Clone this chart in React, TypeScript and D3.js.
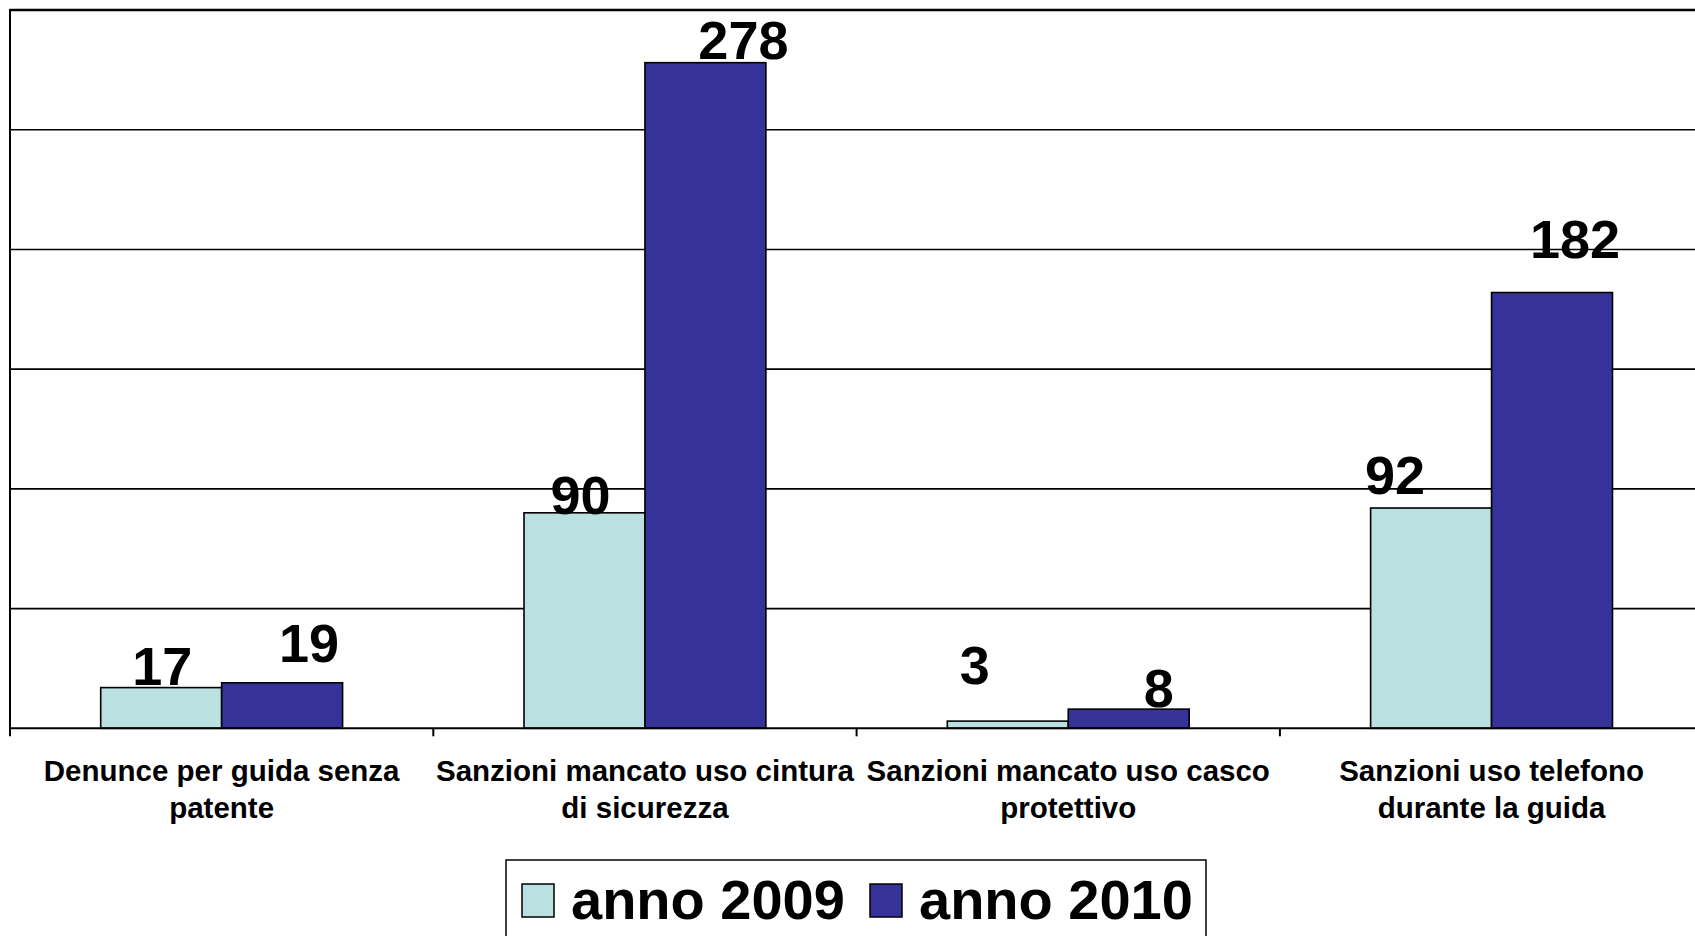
import React, { useEffect } from "react";
import * as d3 from "d3";

const categories = [
  "Denunce per guida senza patente",
  "Sanzioni mancato uso cintura di sicurezza",
  "Sanzioni mancato uso casco protettivo",
  "Sanzioni uso telefono durante la guida",
];
const categoryLines = [
  ["Denunce per guida senza", "patente"],
  ["Sanzioni mancato uso cintura", "di sicurezza"],
  ["Sanzioni mancato uso casco", "protettivo"],
  ["Sanzioni uso telefono", "durante la guida"],
];
const seriesNames = ["anno 2009", "anno 2010"];
const values2009 = [17, 90, 3, 92];
const values2010 = [19, 278, 8, 182];
const yTicks = [0, 50, 100, 150, 200, 250, 300];

// label placement nudges (layout only): [dx, gap above bar top]
const labelNudge2009 = [[1, 3], [-4, -1], [-33, 37], [-36, 14]];
const labelNudge2010 = [[27, 21], [38, 4], [30, 2], [23, 35]];

const W = 1695;
const H = 936;
const FONT = "'Liberation Sans', Arial, Helvetica, sans-serif";
const colors = ["#BAE0E2", "#353399"];

export default function App() {
  useEffect(() => {
    document.body.style.margin = "0";
    document.body.style.overflow = "hidden";
  }, []);

  const left = 10;
  const step = 423.3;
  const x = d3
    .scaleBand<string>()
    .domain(categories)
    .range([left, left + step * categories.length])
    .paddingInner(0)
    .paddingOuter(0);
  const y = d3.scaleLinear().domain([0, 300]).range([728.3, 10]);
  const bw = x.bandwidth();
  const barW = bw / 3.5;
  const inner = d3
    .scaleBand<number>()
    .domain([0, 1])
    .range([0.75 * barW, 2.75 * barW]);

  const series = [values2009, values2010];
  const nudges = [labelNudge2009, labelNudge2010];

  return (
    <svg
      width={W}
      height={H}
      style={{ position: "absolute", left: 0, top: 0, background: "#fff" }}
      fontFamily={FONT}
    >
      <rect x={0} y={0} width={W} height={H} fill="#fff" />
      {yTicks.slice(1).map((t) => (
        <line
          key={t}
          x1={left}
          x2={W}
          y1={y(t)}
          y2={y(t)}
          stroke="#000"
          strokeWidth={t === 300 ? 2.5 : 1.6}
        />
      ))}
      {series.map((vals, si) =>
        vals.map((v, ci) => {
          const bx = (x(categories[ci]) as number) + (inner(si) as number);
          return (
            <rect
              key={`b${si}-${ci}`}
              x={bx}
              y={y(v)}
              width={inner.bandwidth()}
              height={y(0) - y(v)}
              fill={colors[si]}
              stroke="#000"
              strokeWidth={1.6}
            />
          );
        })
      )}
      <line x1={left} x2={W} y1={y(0)} y2={y(0)} stroke="#000" strokeWidth={2} />
      <line x1={left} x2={left} y1={y(300) - 1} y2={y(0) + 8} stroke="#000" strokeWidth={2} />
      {categories.map((c, i) =>
        i === 0 ? null : (
          <line
            key={`t${i}`}
            x1={x(c) as number}
            x2={x(c) as number}
            y1={y(0)}
            y2={y(0) + 8}
            stroke="#000"
            strokeWidth={2}
          />
        )
      )}
      {series.map((vals, si) =>
        vals.map((v, ci) => {
          const cx =
            (x(categories[ci]) as number) +
            (inner(si) as number) +
            inner.bandwidth() / 2 +
            nudges[si][ci][0];
          const by = y(v) - nudges[si][ci][1];
          return (
            <text
              key={`l${si}-${ci}`}
              x={cx}
              y={by}
              textAnchor="middle"
              fontSize={54}
              fontWeight="bold"
              fill="#000"
            >
              {v}
            </text>
          );
        })
      )}
      {categoryLines.map((lines, ci) => (
        <text
          key={`c${ci}`}
          x={(x(categories[ci]) as number) + bw / 2}
          y={781}
          textAnchor="middle"
          fontSize={29.5}
          fontWeight="bold"
          fill="#000"
        >
          {lines.map((ln, li) => (
            <tspan key={li} x={(x(categories[ci]) as number) + bw / 2} dy={li === 0 ? 0 : 36.5}>
              {ln}
            </tspan>
          ))}
        </text>
      ))}
      <rect x={506} y={860} width={700} height={120} fill="#fff" stroke="#000" strokeWidth={1.5} />
      {seriesNames.map((name, i) => {
        const sx = [522, 870][i];
        return (
          <g key={name}>
            <rect x={sx} y={884} width={32} height={33} fill={colors[i]} stroke="#000" strokeWidth={1.5} />
            <text x={sx + 49} y={919} fontSize={56} fontWeight="bold" fill="#000">
              {name}
            </text>
          </g>
        );
      })}
    </svg>
  );
}
